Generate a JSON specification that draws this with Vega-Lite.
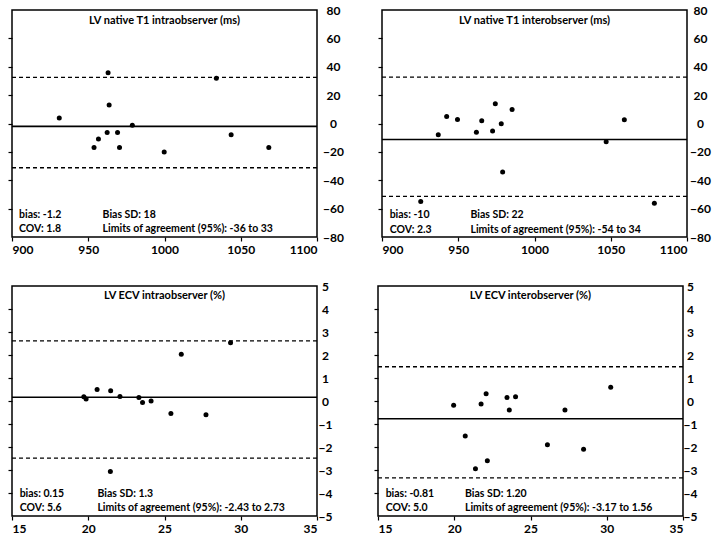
{
  "$schema": "https://vega.github.io/schema/vega-lite/v6.json",
  "padding": {"left": 6, "top": 3, "right": 2, "bottom": 2},
  "background": "white",
  "datasets": {
    "pts": [
      {"panel": "p1", "x": 931, "y": 3.8},
      {"panel": "p1", "x": 963, "y": 35.7},
      {"panel": "p1", "x": 963.7, "y": 13},
      {"panel": "p1", "x": 953.8, "y": -17},
      {"panel": "p1", "x": 956.7, "y": -10.9},
      {"panel": "p1", "x": 962.4, "y": -6.4},
      {"panel": "p1", "x": 969.2, "y": -6.4},
      {"panel": "p1", "x": 970.5, "y": -17},
      {"panel": "p1", "x": 978.9, "y": -1.2},
      {"panel": "p1", "x": 999.8, "y": -20},
      {"panel": "p1", "x": 1034, "y": 31.9},
      {"panel": "p1", "x": 1043.7, "y": -8},
      {"panel": "p1", "x": 1068.4, "y": -17},
      {"panel": "p2", "x": 925.4, "y": -55},
      {"panel": "p2", "x": 936.9, "y": -8},
      {"panel": "p2", "x": 942.4, "y": 4.9},
      {"panel": "p2", "x": 949.5, "y": 2.8},
      {"panel": "p2", "x": 961.9, "y": -6.1},
      {"panel": "p2", "x": 965.4, "y": 1.9},
      {"panel": "p2", "x": 972.5, "y": -5.2},
      {"panel": "p2", "x": 974.3, "y": 13.9},
      {"panel": "p2", "x": 978.2, "y": -0.2},
      {"panel": "p2", "x": 979.1, "y": -34.1},
      {"panel": "p2", "x": 985.3, "y": 9.9},
      {"panel": "p2", "x": 1047, "y": -12.9},
      {"panel": "p2", "x": 1058.9, "y": 2.6},
      {"panel": "p2", "x": 1078.6, "y": -56.2},
      {"panel": "p3", "x": 19.71, "y": 0.19},
      {"panel": "p3", "x": 19.86, "y": 0.09},
      {"panel": "p3", "x": 20.58, "y": 0.5},
      {"panel": "p3", "x": 21.47, "y": 0.45},
      {"panel": "p3", "x": 22.08, "y": 0.2},
      {"panel": "p3", "x": 23.32, "y": 0.15},
      {"panel": "p3", "x": 23.56, "y": -0.07},
      {"panel": "p3", "x": 24.12, "y": 0},
      {"panel": "p3", "x": 25.42, "y": -0.54},
      {"panel": "p3", "x": 26.1, "y": 2.03},
      {"panel": "p3", "x": 27.72, "y": -0.6},
      {"panel": "p3", "x": 29.33, "y": 2.53},
      {"panel": "p3", "x": 21.45, "y": -3.07},
      {"panel": "p4", "x": 19.96, "y": -0.18},
      {"panel": "p4", "x": 20.72, "y": -1.52},
      {"panel": "p4", "x": 21.39, "y": -2.95},
      {"panel": "p4", "x": 21.76, "y": -0.13},
      {"panel": "p4", "x": 22.09, "y": 0.32},
      {"panel": "p4", "x": 22.17, "y": -2.6},
      {"panel": "p4", "x": 23.46, "y": 0.15},
      {"panel": "p4", "x": 23.61, "y": -0.39},
      {"panel": "p4", "x": 24.02, "y": 0.19},
      {"panel": "p4", "x": 26.11, "y": -1.9},
      {"panel": "p4", "x": 27.26, "y": -0.39},
      {"panel": "p4", "x": 28.48, "y": -2.1},
      {"panel": "p4", "x": 30.26, "y": 0.6}
    ],
    "lines": [
      {"panel": "p1", "v": -2, "kind": "solid"},
      {"panel": "p1", "v": 32.5, "kind": "dashed"},
      {"panel": "p1", "v": -31.2, "kind": "dashed"},
      {"panel": "p2", "v": -11.3, "kind": "solid"},
      {"panel": "p2", "v": 32.7, "kind": "dashed"},
      {"panel": "p2", "v": -51.3, "kind": "dashed"},
      {"panel": "p3", "v": 0.16, "kind": "solid"},
      {"panel": "p3", "v": 2.61, "kind": "dashed"},
      {"panel": "p3", "v": -2.48, "kind": "dashed"},
      {"panel": "p4", "v": -0.77, "kind": "solid"},
      {"panel": "p4", "v": 1.49, "kind": "dashed"},
      {"panel": "p4", "v": -3.34, "kind": "dashed"}
    ]
  },
  "spacing": 23,
  "vconcat": [
    {
      "spacing": 31,
      "hconcat": [
        {
          "width": 305, "height": 227,
          "resolve": {"axis": {"x": "independent", "y": "independent"}},
          "layer": [
            {
              "data": {"name": "lines"},
              "transform": [{"filter": "datum.panel === 'p1'"}],
              "mark": {"type": "rule", "color": "black"},
              "encoding": {
                "y": {"field": "v", "type": "quantitative", "scale": {"domain": [-80, 80], "nice": false, "zero": false},
                      "axis": {"orient": "left", "labels": false, "ticks": true, "tickSize": 4, "values": [-60, -40, -20, 0, 20, 40, 60], "title": null}},
                "strokeDash": {"field": "kind", "type": "nominal", "scale": {"domain": ["solid", "dashed"], "range": [[1, 0], [4, 3]]}, "legend": null},
                "strokeWidth": {"field": "kind", "type": "nominal", "scale": {"domain": ["solid", "dashed"], "range": [1.6, 1.3]}, "legend": null}
              }
            },
            {
              "data": {"name": "pts"},
              "transform": [{"filter": "datum.panel === 'p1'"}],
              "mark": {"type": "circle", "size": 25, "color": "black", "opacity": 1},
              "encoding": {
                "x": {"field": "x", "type": "quantitative", "scale": {"domain": [900, 1100], "nice": false, "zero": false},
                      "axis": {"orient": "bottom", "values": [900, 950, 1000, 1050, 1100], "format": "d", "tickSize": 4, "labelPadding": 3, "title": null}},
                "y": {"field": "y", "type": "quantitative", "scale": {"domain": [-80, 80], "nice": false, "zero": false},
                      "axis": {"orient": "right", "ticks": false, "labelAlign": "center", "labelPadding": 16, "values": [-80, -60, -40, -20, 0, 20, 40, 60, 80], "title": null}}
              }
            },
            {
              "data": {"values": [{}]},
              "mark": {"type": "text", "text": "LV native T1 intraobserver (ms)", "align": "center", "baseline": "middle", "fontSize": 11},
              "encoding": {"x": {"datum": 1000, "type": "quantitative", "axis": null}, "y": {"datum": 72.2, "type": "quantitative", "axis": null}}
            },
            {
              "data": {"values": [{}]},
              "mark": {"type": "text", "text": ["bias: -1.2", "COV: 1.8"], "align": "left", "baseline": "middle", "lineHeight": 14},
              "encoding": {"x": {"datum": 904.6, "type": "quantitative", "axis": null}, "y": {"datum": -64.8, "type": "quantitative", "axis": null}}
            },
            {
              "data": {"values": [{}]},
              "mark": {"type": "text", "text": ["Bias SD: 18", "Limits of agreement (95%): -36 to 33"], "align": "left", "baseline": "middle", "lineHeight": 14},
              "encoding": {"x": {"datum": 959.4, "type": "quantitative", "axis": null}, "y": {"datum": -64.8, "type": "quantitative", "axis": null}}
            }
          ]
        },
        {
          "width": 305, "height": 227,
          "resolve": {"axis": {"x": "independent", "y": "independent"}},
          "layer": [
            {
              "data": {"name": "lines"},
              "transform": [{"filter": "datum.panel === 'p2'"}],
              "mark": {"type": "rule", "color": "black"},
              "encoding": {
                "y": {"field": "v", "type": "quantitative", "scale": {"domain": [-80, 80], "nice": false, "zero": false},
                      "axis": {"orient": "left", "labels": false, "ticks": true, "tickSize": 4, "values": [-60, -40, -20, 0, 20, 40, 60], "title": null}},
                "strokeDash": {"field": "kind", "type": "nominal", "scale": {"domain": ["solid", "dashed"], "range": [[1, 0], [4, 3]]}, "legend": null},
                "strokeWidth": {"field": "kind", "type": "nominal", "scale": {"domain": ["solid", "dashed"], "range": [1.6, 1.3]}, "legend": null}
              }
            },
            {
              "data": {"name": "pts"},
              "transform": [{"filter": "datum.panel === 'p2'"}],
              "mark": {"type": "circle", "size": 25, "color": "black", "opacity": 1},
              "encoding": {
                "x": {"field": "x", "type": "quantitative", "scale": {"domain": [900, 1100], "nice": false, "zero": false},
                      "axis": {"orient": "bottom", "values": [900, 950, 1000, 1050, 1100], "format": "d", "tickSize": 4, "labelPadding": 3, "title": null}},
                "y": {"field": "y", "type": "quantitative", "scale": {"domain": [-80, 80], "nice": false, "zero": false},
                      "axis": {"orient": "right", "ticks": false, "labelAlign": "center", "labelPadding": 13, "values": [-80, -60, -40, -20, 0, 20, 40, 60, 80], "title": null}}
              }
            },
            {
              "data": {"values": [{}]},
              "mark": {"type": "text", "text": "LV native T1 interobserver (ms)", "align": "center", "baseline": "middle", "fontSize": 11},
              "encoding": {"x": {"datum": 1000, "type": "quantitative", "axis": null}, "y": {"datum": 72.3, "type": "quantitative", "axis": null}}
            },
            {
              "data": {"values": [{}]},
              "mark": {"type": "text", "text": ["bias: -10", "COV: 2.3"], "align": "left", "baseline": "middle", "lineHeight": 15},
              "encoding": {"x": {"datum": 905, "type": "quantitative", "axis": null}, "y": {"datum": -64.8, "type": "quantitative", "axis": null}}
            },
            {
              "data": {"values": [{}]},
              "mark": {"type": "text", "text": ["Bias SD:  22", "Limits of agreement (95%): -54 to 34"], "align": "left", "baseline": "middle", "lineHeight": 15},
              "encoding": {"x": {"datum": 958, "type": "quantitative", "axis": null}, "y": {"datum": -64.8, "type": "quantitative", "axis": null}}
            }
          ]
        }
      ]
    },
    {
      "spacing": 39,
      "hconcat": [
        {
          "width": 305, "height": 230,
          "resolve": {"axis": {"x": "independent", "y": "independent"}},
          "layer": [
            {
              "data": {"name": "lines"},
              "transform": [{"filter": "datum.panel === 'p3'"}],
              "mark": {"type": "rule", "color": "black"},
              "encoding": {
                "y": {"field": "v", "type": "quantitative", "scale": {"domain": [-5, 5], "nice": false, "zero": false},
                      "axis": {"orient": "left", "labels": false, "ticks": true, "tickSize": 4, "values": [-4, -3, -2, -1, 0, 1, 2, 3, 4], "title": null}},
                "strokeDash": {"field": "kind", "type": "nominal", "scale": {"domain": ["solid", "dashed"], "range": [[1, 0], [4, 3]]}, "legend": null},
                "strokeWidth": {"field": "kind", "type": "nominal", "scale": {"domain": ["solid", "dashed"], "range": [1.6, 1.3]}, "legend": null}
              }
            },
            {
              "data": {"name": "pts"},
              "transform": [{"filter": "datum.panel === 'p3'"}],
              "mark": {"type": "circle", "size": 25, "color": "black", "opacity": 1},
              "encoding": {
                "x": {"field": "x", "type": "quantitative", "scale": {"domain": [15, 35], "nice": false, "zero": false},
                      "axis": {"orient": "bottom", "values": [15, 20, 25, 30, 35], "format": "d", "tickSize": 4, "labelPadding": 3, "title": null}},
                "y": {"field": "y", "type": "quantitative", "scale": {"domain": [-5, 5], "nice": false, "zero": false},
                      "axis": {"orient": "right", "ticks": false, "labelAlign": "center", "labelPadding": 8, "values": [-5, -4, -3, -2, -1, 0, 1, 2, 3, 4, 5], "title": null}}
              }
            },
            {
              "data": {"values": [{}]},
              "mark": {"type": "text", "text": "LV ECV intraobserver (%)", "align": "center", "baseline": "middle", "fontSize": 11},
              "encoding": {"x": {"datum": 25, "type": "quantitative", "axis": null}, "y": {"datum": 4.58, "type": "quantitative", "axis": null}}
            },
            {
              "data": {"values": [{}]},
              "mark": {"type": "text", "text": ["bias: 0.15", "COV: 5.6"], "align": "left", "baseline": "middle", "lineHeight": 14},
              "encoding": {"x": {"datum": 15.5, "type": "quantitative", "axis": null}, "y": {"datum": -4.04, "type": "quantitative", "axis": null}}
            },
            {
              "data": {"values": [{}]},
              "mark": {"type": "text", "text": ["Bias SD: 1.3", "Limits of agreement (95%): -2.43 to 2.73"], "align": "left", "baseline": "middle", "lineHeight": 14},
              "encoding": {"x": {"datum": 20.6, "type": "quantitative", "axis": null}, "y": {"datum": -4.04, "type": "quantitative", "axis": null}}
            }
          ]
        },
        {
          "width": 305, "height": 230,
          "resolve": {"axis": {"x": "independent", "y": "independent"}},
          "layer": [
            {
              "data": {"name": "lines"},
              "transform": [{"filter": "datum.panel === 'p4'"}],
              "mark": {"type": "rule", "color": "black"},
              "encoding": {
                "y": {"field": "v", "type": "quantitative", "scale": {"domain": [-5, 5], "nice": false, "zero": false},
                      "axis": {"orient": "left", "labels": false, "ticks": true, "tickSize": 4, "values": [-4, -3, -2, -1, 0, 1, 2, 3, 4], "title": null}},
                "strokeDash": {"field": "kind", "type": "nominal", "scale": {"domain": ["solid", "dashed"], "range": [[1, 0], [4, 3]]}, "legend": null},
                "strokeWidth": {"field": "kind", "type": "nominal", "scale": {"domain": ["solid", "dashed"], "range": [1.6, 1.3]}, "legend": null}
              }
            },
            {
              "data": {"name": "pts"},
              "transform": [{"filter": "datum.panel === 'p4'"}],
              "mark": {"type": "circle", "size": 25, "color": "black", "opacity": 1},
              "encoding": {
                "x": {"field": "x", "type": "quantitative", "scale": {"domain": [15, 35], "nice": false, "zero": false},
                      "axis": {"orient": "bottom", "values": [15, 20, 25, 30, 35], "format": "d", "tickSize": 4, "labelPadding": 3, "title": null}},
                "y": {"field": "y", "type": "quantitative", "scale": {"domain": [-5, 5], "nice": false, "zero": false},
                      "axis": {"orient": "right", "ticks": false, "labelAlign": "center", "labelPadding": 7, "values": [-5, -4, -3, -2, -1, 0, 1, 2, 3, 4, 5], "title": null}}
              }
            },
            {
              "data": {"values": [{}]},
              "mark": {"type": "text", "text": "LV ECV interobserver (%)", "align": "center", "baseline": "middle", "fontSize": 11},
              "encoding": {"x": {"datum": 25, "type": "quantitative", "axis": null}, "y": {"datum": 4.55, "type": "quantitative", "axis": null}}
            },
            {
              "data": {"values": [{}]},
              "mark": {"type": "text", "text": ["bias:  -0.81", "COV:  5.0"], "align": "left", "baseline": "middle", "lineHeight": 14},
              "encoding": {"x": {"datum": 15.5, "type": "quantitative", "axis": null}, "y": {"datum": -4.04, "type": "quantitative", "axis": null}}
            },
            {
              "data": {"values": [{}]},
              "mark": {"type": "text", "text": ["Bias SD:  1.20", "Limits of agreement (95%): -3.17 to 1.56"], "align": "left", "baseline": "middle", "lineHeight": 14},
              "encoding": {"x": {"datum": 20.7, "type": "quantitative", "axis": null}, "y": {"datum": -4.04, "type": "quantitative", "axis": null}}
            }
          ]
        }
      ]
    }
  ],
  "config": {
    "view": {"stroke": "black", "strokeWidth": 1.5},
    "axis": {"domain": false, "grid": false, "labelFont": "Lato", "labelFontWeight": "bold", "labelFontSize": 12, "labelColor": "black", "tickColor": "black", "tickWidth": 1.2},
    "text": {"font": "Lato", "fontWeight": "bold", "fontSize": 10.5, "color": "black"}
  }
}
